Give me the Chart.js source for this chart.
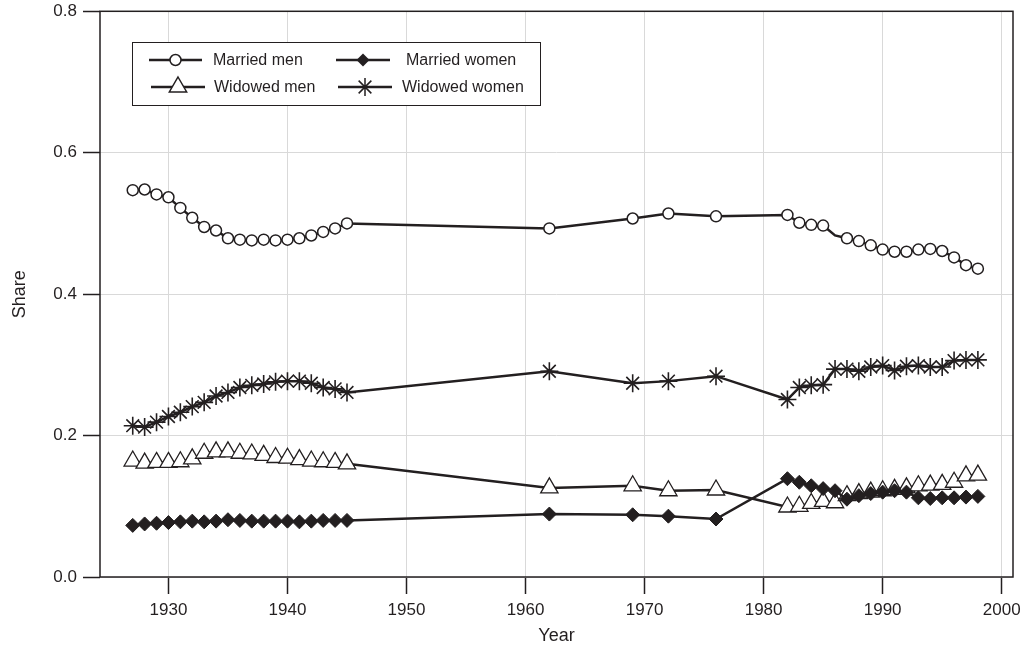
<!DOCTYPE html>
<html>
<head>
<meta charset="utf-8">
<script src="https://cdn.jsdelivr.net/npm/chart.js@4.4.1/dist/chart.umd.min.js"></script>
<style>
  html, body { margin: 0; padding: 0; background: #fff; }
  #wrap { width: 1029px; height: 650px; }
</style>
</head>
<body>
<div id="wrap"><canvas id="shareChart" width="1029" height="650"></canvas></div>
<script>
// Years observed (gap between 1945 and 1962, then 1982 onwards)
const years = [1927, 1928, 1929, 1930, 1931, 1932, 1933, 1934, 1935, 1936, 1937, 1938, 1939, 1940, 1941, 1942, 1943, 1944, 1945,
    1962, 1969, 1972, 1976,
    1982, 1983, 1984, 1985, 1986, 1987, 1988, 1989, 1990, 1991, 1992, 1993, 1994, 1995, 1996, 1997, 1998];

const marriedMen = [0.547, 0.548, 0.541, 0.537, 0.522, 0.508, 0.495, 0.490, 0.479, 0.477, 0.476, 0.477, 0.476, 0.477, 0.479, 0.483, 0.488, 0.493, 0.500,
    0.493, 0.507, 0.514, 0.510,
    0.512, 0.501, 0.498, 0.497, 0.483, 0.479, 0.475, 0.469, 0.463, 0.460, 0.460, 0.463, 0.464, 0.461, 0.452, 0.441, 0.436];

const marriedWomen = [0.073, 0.075, 0.076, 0.077, 0.078, 0.079, 0.078, 0.079, 0.081, 0.080, 0.079, 0.079, 0.079, 0.079, 0.078, 0.079, 0.080, 0.080, 0.080,
    0.089, 0.088, 0.086, 0.082,
    0.139, 0.134, 0.129, 0.125, 0.122, 0.110, 0.115, 0.118, 0.120, 0.122, 0.120, 0.112, 0.111, 0.112, 0.112, 0.113, 0.114];

const widowedMen = [0.164, 0.161, 0.162, 0.162, 0.163, 0.167, 0.175, 0.177, 0.177, 0.175, 0.174, 0.172, 0.169, 0.168, 0.166, 0.164, 0.163, 0.162, 0.160,
    0.126, 0.129, 0.122, 0.123,
    0.099, 0.100, 0.104, 0.107, 0.105, 0.115, 0.118, 0.120, 0.122, 0.124, 0.126, 0.129, 0.130, 0.131, 0.134, 0.143, 0.144];

const widowedWomen = [0.214, 0.212, 0.219, 0.227, 0.233, 0.241, 0.247, 0.256, 0.261, 0.268, 0.271, 0.273, 0.276, 0.277, 0.277, 0.274, 0.268, 0.266, 0.261,
    0.291, 0.274, 0.277, 0.284,
    0.251, 0.268, 0.271, 0.272, 0.294, 0.294, 0.291, 0.297, 0.299, 0.292, 0.298, 0.299, 0.297, 0.297, 0.306, 0.307, 0.307];

const xTicks = [1930, 1940, 1950, 1960, 1970, 1980, 1990, 2000];
const yTicks = [0, 0.2, 0.4, 0.6, 0.8];

const ink = '#231f20';
const FONT = '"Liberation Sans", Arial, Helvetica, sans-serif';

function toPoints(vals) {
    return vals.map((v, i) => ({ x: years[i], y: v }));
}

// married men has no marker at 1986 in the original
let mmRadius = years.map(y => y === 1986 ? 0 : 5.5);

let datasets = [
    { label: 'Married men', data: toPoints(marriedMen), pointStyle: 'circle', pointRadius: mmRadius,
      pointBackgroundColor: '#fff', pointBorderWidth: 1.5 },
    { label: 'Married women', data: toPoints(marriedWomen), pointStyle: 'rectRot', pointRadius: 7,
      pointBackgroundColor: ink, pointBorderWidth: 1 },
    { label: 'Widowed men', data: toPoints(widowedMen), pointStyle: 'triangle', pointRadius: 10,
      pointBackgroundColor: '#fff', pointBorderWidth: 1.3 },
    { label: 'Widowed women', data: toPoints(widowedWomen), pointStyle: 'star', pointRadius: 9,
      pointBackgroundColor: ink, pointBorderWidth: 1.6 }
];
datasets.forEach(d => {
    d.borderColor = ink;
    d.borderWidth = 2.5;
    d.pointBorderColor = ink;
    d.tension = 0;
    d.fill = false;
});

// small marker painter for the legend box
function drawMarker(ctx, style, x, y) {
    ctx.save();
    ctx.strokeStyle = ink;
    ctx.lineWidth = 1.5;
    ctx.beginPath();
    if (style === 'circle') {
        ctx.arc(x, y, 5.5, 0, Math.PI * 2);
        ctx.fillStyle = '#fff';
        ctx.fill();
        ctx.stroke();
    } else if (style === 'rectRot') {
        let r = 6.5;
        ctx.moveTo(x, y - r); ctx.lineTo(x + r, y); ctx.lineTo(x, y + r); ctx.lineTo(x - r, y);
        ctx.closePath();
        ctx.fillStyle = ink;
        ctx.fill();
    } else if (style === 'triangle') {
        let r = 10;
        ctx.moveTo(x, y - r);
        ctx.lineTo(x + r * 0.866, y + r / 2);
        ctx.lineTo(x - r * 0.866, y + r / 2);
        ctx.closePath();
        ctx.fillStyle = '#fff';
        ctx.fill();
        ctx.stroke();
    } else if (style === 'star') {
        let r = 9;
        for (let k = 0; k < 4; k++) {
            let a = k * Math.PI / 4;
            ctx.moveTo(x + Math.sin(a) * r, y - Math.cos(a) * r);
            ctx.lineTo(x - Math.sin(a) * r, y + Math.cos(a) * r);
        }
        ctx.stroke();
    }
    ctx.restore();
}

const boxAndLegend = {
    id: 'boxAndLegend',
    beforeDatasetsDraw(chart) {
        let { ctx, chartArea: a } = chart;
        ctx.save();
        ctx.strokeStyle = ink;
        ctx.lineWidth = 1.5;
        ctx.strokeRect(a.left, a.top, a.right - a.left, a.bottom - a.top);
        ctx.restore();
    },
    afterDraw(chart) {
        let ctx = chart.ctx;
        ctx.save();
        ctx.fillStyle = '#fff';
        ctx.fillRect(132, 42, 408, 63);
        ctx.strokeStyle = ink;
        ctx.lineWidth = 1;
        ctx.strokeRect(132.5, 42.5, 408, 63);

        let items = [
            { text: 'Married men', style: 'circle', x0: 149, x1: 202, tx: 213, y: 60 },
            { text: 'Married women', style: 'rectRot', x0: 336, x1: 390, tx: 406, y: 60 },
            { text: 'Widowed men', style: 'triangle', x0: 151, x1: 205, tx: 214, y: 87 },
            { text: 'Widowed women', style: 'star', x0: 338, x1: 392, tx: 402, y: 87 }
        ];
        ctx.font = '16px ' + FONT;
        ctx.textBaseline = 'middle';
        ctx.textAlign = 'left';
        items.forEach(it => {
            ctx.strokeStyle = ink;
            ctx.lineWidth = 2.5;
            ctx.beginPath();
            ctx.moveTo(it.x0, it.y);
            ctx.lineTo(it.x1, it.y);
            ctx.stroke();
            drawMarker(ctx, it.style, (it.x0 + it.x1) / 2, it.y);
            ctx.fillStyle = ink;
            ctx.fillText(it.text, it.tx, it.y + 1);
        });
        ctx.restore();
    }
};

let ctx = document.getElementById('shareChart').getContext('2d');
let shareChart = new Chart(ctx, {
    type: 'line',
    data: { datasets: datasets },
    plugins: [boxAndLegend],
    options: {
        responsive: false,
        animation: false,
        layout: { padding: { top: 10, right: 16, left: 0, bottom: 0 } },
        plugins: {
            legend: { display: false },
            tooltip: { enabled: false }
        },
        scales: {
            x: {
                type: 'linear',
                min: 1924.25,
                max: 2000.95,
                afterBuildTicks: s => { s.ticks = xTicks.map(v => ({ value: v })); },
                afterFit: s => { s.height = 73; s.paddingLeft = 0; s.paddingRight = 0; },
                border: { display: false },
                grid: { color: '#d9d9d9', lineWidth: 1, tickLength: 17, tickColor: ink, tickWidth: 1.5 },
                ticks: { color: ink, padding: 6, maxRotation: 0, font: { family: FONT, size: 17 },
                         callback: v => String(v) },
                title: { display: true, text: 'Year', color: ink, font: { family: FONT, size: 18 },
                         padding: { top: 0, bottom: 3 } }
            },
            y: {
                min: 0,
                max: 0.8,
                afterBuildTicks: s => { s.ticks = yTicks.map(v => ({ value: v })); },
                afterFit: s => { s.width = 100; s.paddingTop = 0; s.paddingBottom = 0; },
                border: { display: false },
                grid: { color: '#d9d9d9', lineWidth: 1, tickLength: 17, tickColor: ink, tickWidth: 1.5 },
                ticks: { color: ink, padding: 6, font: { family: FONT, size: 17 },
                         callback: v => v.toFixed(1) },
                title: { display: true, text: 'Share', color: ink, font: { family: FONT, size: 18 },
                         padding: { top: 9, bottom: 0 } }
            }
        }
    }
});
</script>
</body>
</html>
